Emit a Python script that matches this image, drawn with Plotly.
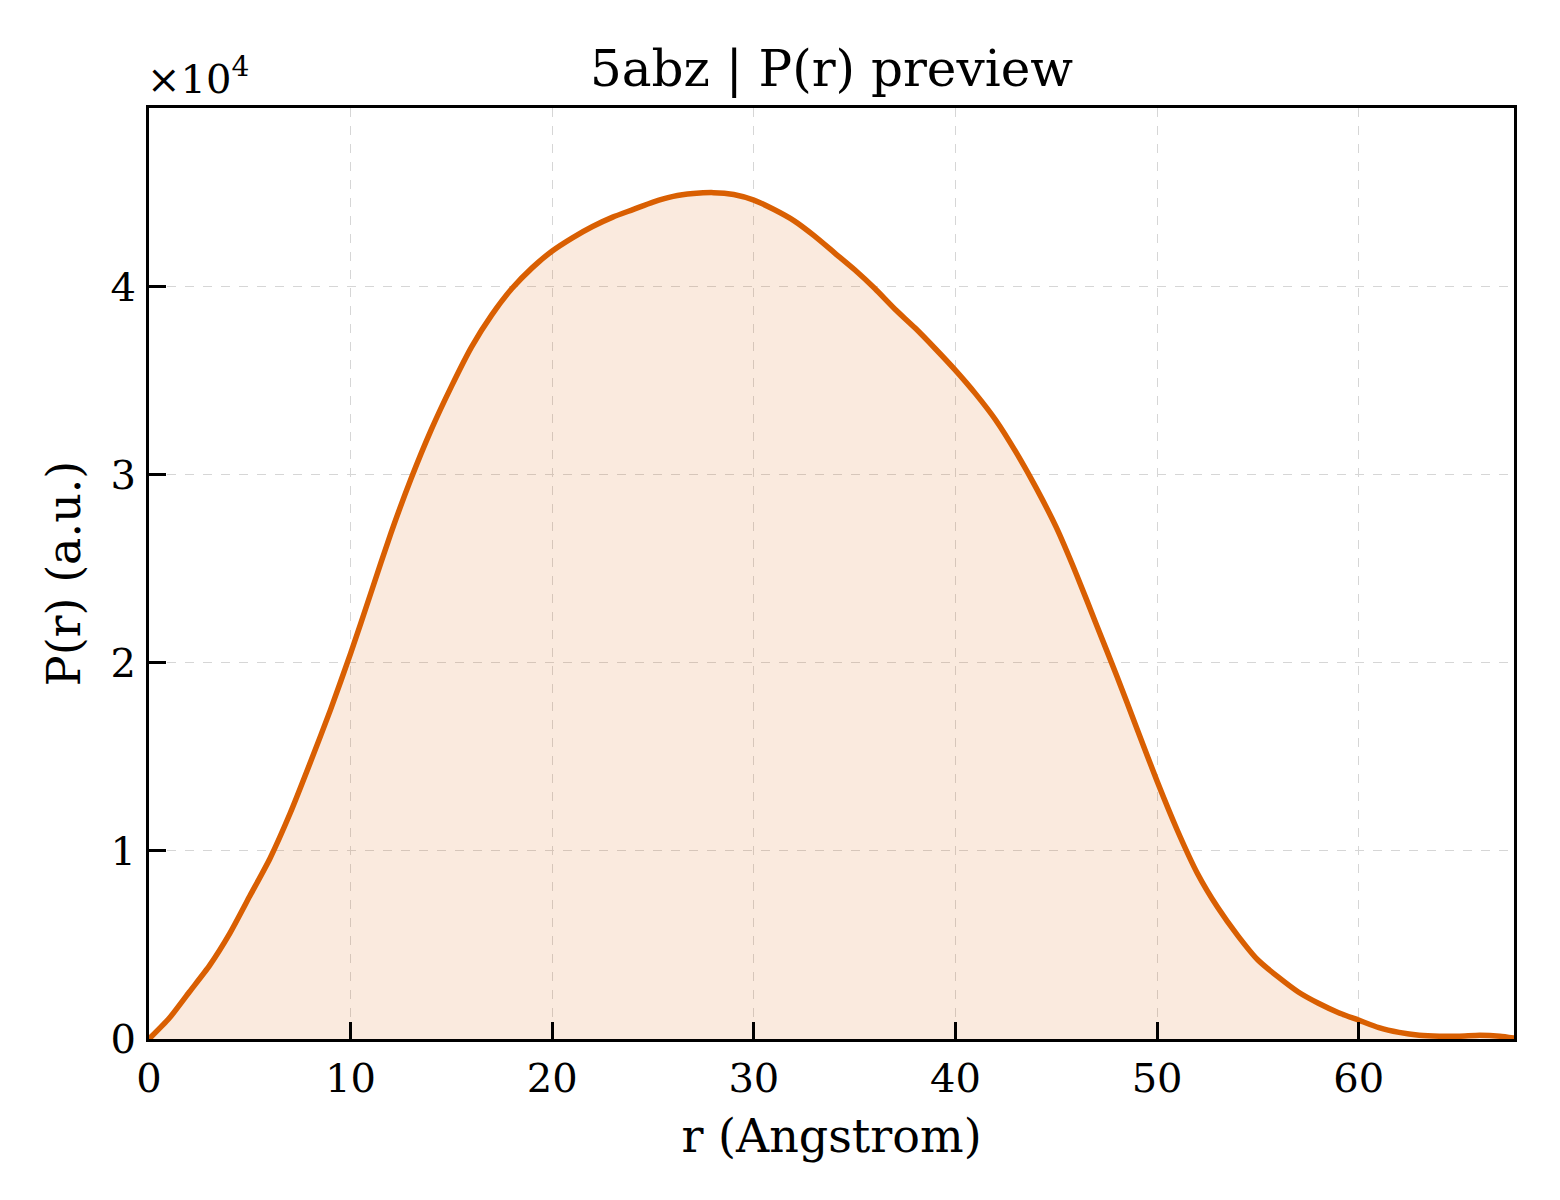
import plotly.graph_objects as go

# P(r) preview for 5abz
r_angstrom = list(range(0, 69))
p_r = [0, 1100, 2500, 3900, 5600, 7600, 9600, 12000, 14700, 17500,
       20500, 23700, 26900, 29800, 32400, 34700, 36800, 38500, 39900, 41000,
       41900, 42600, 43200, 43700, 44100, 44500, 44800, 44950, 45000, 44900,
       44600, 44100, 43500, 42700, 41800, 40900, 39900, 38800, 37800, 36700,
       35550, 34300, 32900, 31200, 29300, 27200, 24700, 22000, 19300, 16500,
       13700, 11100, 8800, 7000, 5500, 4200, 3300, 2500, 1900, 1400,
       1000, 600, 350, 200, 150, 150, 200, 150, 0]

scale = 1e4
orange = '#D95F02'

fig = go.Figure()
fig.add_trace(
    go.Scatter(x=r_angstrom,
               y=[v / scale for v in p_r],
               mode='lines',
               fill='tozeroy',
               fillcolor='rgba(217,95,2,0.13)',
               line=dict(color=orange, width=5.5, shape='spline', smoothing=0.6),
               showlegend=False
              )
)

font_family = 'DejaVu Serif'
fig.update_layout(
    width=1560, height=1200,
    template='plotly_white',
    plot_bgcolor='white',
    paper_bgcolor='white',
    font=dict(family=font_family, size=40, color='black'),
    margin=dict(l=141, r=54, t=100, b=169),
    title=dict(text='5abz | P(r) preview',
               x=0.5, xref='paper', xanchor='center',
               y=1 - 60 / 1200, yanchor='middle',
               font=dict(size=50, family=font_family, color='black')),
)

axis_common = dict(
    showline=True, linecolor='black', linewidth=3, mirror=True,
    ticks='inside', ticklen=17, tickwidth=3, tickcolor='black',
    showgrid=True, gridcolor='#d6d6d6', gridwidth=1, griddash='dash',
    zeroline=False,
    tickfont=dict(size=40, family=font_family, color='black'),
)
fig.update_xaxes(range=[0, 67.7], dtick=10, tick0=0,
                 title=dict(text='r (Angstrom)', font=dict(size=46), standoff=20),
                 ticklabelstandoff=2,
                 **axis_common)
fig.update_yaxes(range=[0, 4.95], dtick=1, tick0=0,
                 title=dict(text='P(r) (a.u.)', font=dict(size=46), standoff=16),
                 ticklabelstandoff=2,
                 **axis_common)

fig.add_annotation(text='×10<sup>4</sup>', xref='paper', yref='paper',
                   x=0.0, y=1.0, xanchor='left', yanchor='bottom',
                   yshift=4, xshift=-4, showarrow=False,
                   font=dict(size=40, family=font_family, color='black'))

fig.write_html('out.html')
